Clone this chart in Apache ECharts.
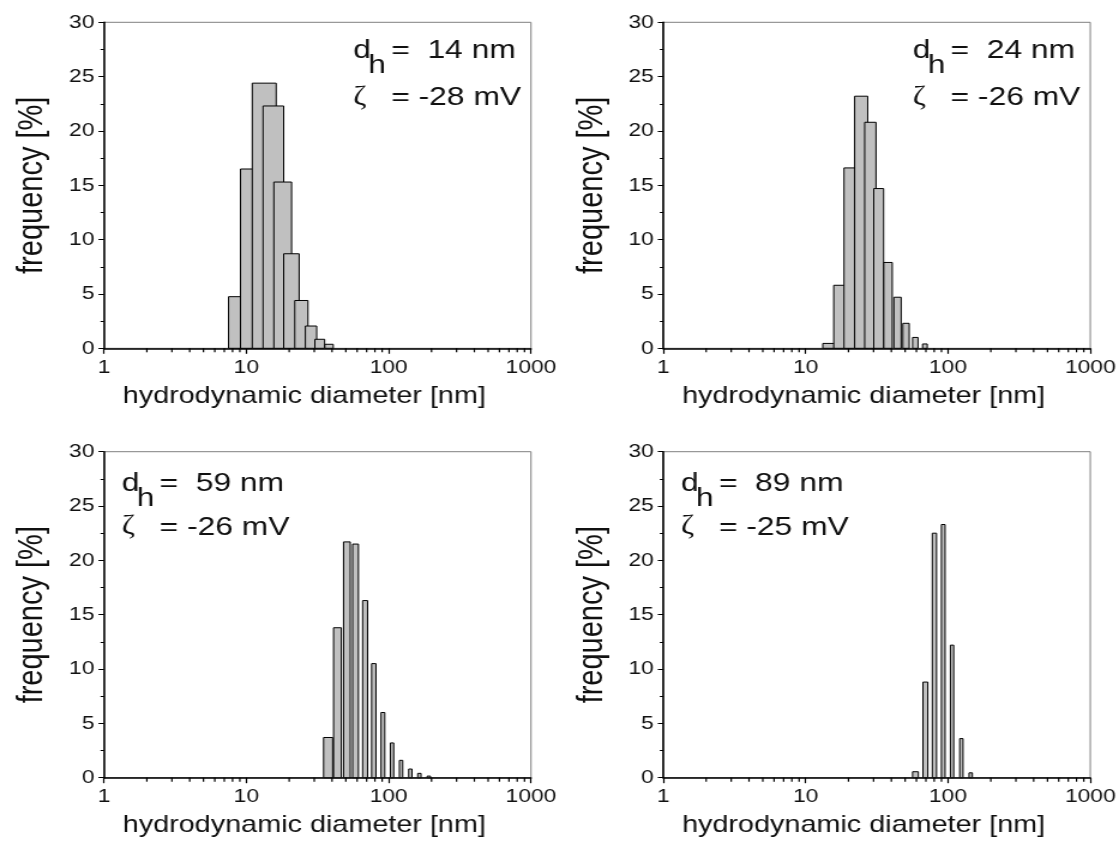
<!DOCTYPE html>
<html>
<head>
<meta charset="utf-8">
<script src="https://cdn.jsdelivr.net/npm/echarts@6/dist/echarts.min.js"></script>
<style>
html, body { margin: 0; padding: 0; background: #fff; overflow: hidden; }
#wrap { width: 1119px; height: 850px; overflow: hidden; }
#chart { width: 933px; height: 850px; transform: scaleX(1.19936); transform-origin: 0 0; }
</style>
</head>
<body>
<div id="wrap"><div id="chart"></div></div>
<script>
// ---- data (bin lower edge diameters in nm, frequencies in %) ----
const P1_DIAMETER_NM = [7.5, 9.1, 11.0, 13.1, 15.6, 18.3, 21.9, 26.0, 30.3, 35.6];
const P1_FREQUENCY   = [4.75, 16.5, 24.4, 22.3, 15.3, 8.7, 4.4, 2.05, 0.83, 0.37];
const P2_DIAMETER_NM = [13.2, 15.75, 18.6, 22.1, 26.0, 30.1, 35.4, 41.7, 48.2, 56.4, 66.3];
const P2_FREQUENCY   = [0.45, 5.8, 16.6, 23.2, 20.8, 14.7, 7.9, 4.7, 2.3, 1.0, 0.4];
const P3_DIAMETER_NM = [34.9, 41.0, 48.2, 55.8, 65.6, 75.9, 88.4, 102.8, 119, 138.2, 160, 186.4];
const P3_FREQUENCY   = [3.7, 13.8, 21.7, 21.5, 16.3, 10.5, 6.0, 3.2, 1.6, 0.8, 0.4, 0.15];
const P4_DIAMETER_NM = [56.4, 66.7, 77.6, 89.9, 104, 120.9, 140.6];
const P4_FREQUENCY   = [0.55, 8.8, 22.5, 23.3, 12.2, 3.6, 0.45];
const BIN_WIDTH_NM   = [5.2, 5.2, 5.5, 5.5];
const DH_VALUES      = ['14', '24', '59', '89'];
const ZETA_VALUES    = ['-28', '-26', '-26', '-25'];
const X_TITLE = 'hydrodynamic diameter [nm]';
const Y_TITLE = 'frequency [%]';
const X_MINOR_TICKS = [2, 3, 4, 5, 6, 7, 8, 9, 20, 30, 40, 50, 60, 70, 80, 90, 200, 300, 400, 500, 600, 700, 800, 900];

const DIAMETERS = [P1_DIAMETER_NM, P2_DIAMETER_NM, P3_DIAMETER_NM, P4_DIAMETER_NM];
const FREQS = [P1_FREQUENCY, P2_FREQUENCY, P3_FREQUENCY, P4_FREQUENCY];

// ---- layout ----
const SX = 1119 / 933;
const cx = v => v / SX;
const GRID_W = cx(427), GRID_H = 326;
const GRIDS = [
  { left: cx(104),   top: 22.3 },
  { left: cx(663.3), top: 22.3 },
  { left: cx(104),   top: 451.7 },
  { left: cx(663.3), top: 451.7 }
];
const FONT = 'Liberation Sans, Arial, sans-serif';
const MIN_BAR_PX = cx(3.3);

const chart = echarts.init(document.getElementById('chart'), null, { renderer: 'canvas' });

function barRenderer(w) {
  return function (params, api) {
    const d = api.value(0), f = api.value(1);
    const p0 = api.coord([d, 0]);
    const p1 = api.coord([d + w, f]);
    const width = Math.max(p1[0] - p0[0], MIN_BAR_PX);
    return {
      type: 'rect',
      shape: { x: p0[0], y: p1[1], width: width, height: p0[1] - p1[1] },
      style: { fill: '#c0c0c0', stroke: '#000', lineWidth: 1 }
    };
  };
}
function minorTickRenderer(params, api) {
  const p = api.coord([api.value(0), 0]);
  return {
    type: 'line',
    shape: { x1: p[0], y1: p[1], x2: p[0], y2: p[1] + 4 },
    style: { stroke: '#000', lineWidth: 1.2 }
  };
}

const grid = [], xAxis = [], yAxis = [], series = [], graphic = [];
GRIDS.forEach((g, i) => {
  grid.push({ left: g.left, top: g.top, width: GRID_W, height: GRID_H, show: true,
    borderColor: '#808080', borderWidth: 1, backgroundColor: 'transparent',
    containLabel: false, outerBoundsMode: 'none' });
  xAxis.push({
    type: 'log', logBase: 10, gridIndex: i, min: 1, max: 1000,
    axisLine: { show: true, lineStyle: { color: '#000', width: 1.5 } },
    axisTick: { show: true, inside: false, length: 5.5, lineStyle: { color: '#000', width: 1.2 } },
    axisLabel: { fontSize: 19, fontFamily: FONT, color: '#111', margin: 10, formatter: v => String(v) },
    splitLine: { show: false },
    name: X_TITLE, nameLocation: 'middle', nameGap: 36,
    nameTextStyle: { fontSize: 24, fontFamily: FONT, color: '#111', padding: [0, 22, 0, 0] }
  });
  yAxis.push({
    type: 'value', gridIndex: i, min: 0, max: 30, interval: 5,
    axisLine: { show: true, lineStyle: { color: '#000', width: 1.5 } },
    axisTick: { show: true, inside: false, length: cx(5.5), lineStyle: { color: '#000', width: 1 } },
    minorTick: { show: true, splitNumber: 2, length: cx(3.5), lineStyle: { color: '#000', width: 1 } },
    axisLabel: { fontSize: 19, fontFamily: FONT, color: '#111', margin: 8 },
    splitLine: { show: false }, minorSplitLine: { show: false },
    name: Y_TITLE, nameLocation: 'middle', nameGap: 45,
    nameTextStyle: { fontSize: 29, fontFamily: FONT, color: '#111' }
  });
  series.push({
    type: 'custom', xAxisIndex: i, yAxisIndex: i, clip: false,
    data: DIAMETERS[i].map((d, k) => [d, FREQS[i][k]]),
    renderItem: barRenderer(BIN_WIDTH_NM[i]), z: 3
  });
  series.push({
    type: 'custom', xAxisIndex: i, yAxisIndex: i, clip: false,
    data: X_MINOR_TICKS.map(v => [v, 0]),
    renderItem: minorTickRenderer, z: 4
  });

  // annotations
  const F = 26.5;
  const x0 = g.left + (i < 2 ? cx(249.3) : cx(17.7));
  const b1 = g.top + (i < 2 ? 38 : 41.6);
  const b2 = g.top + 85;
  const mid = b => b - 0.3465 * F;
  const eqX = x0 + cx(38.5) - 0.5;
  const common = { fill: '#111', textVerticalAlign: 'middle', textAlign: 'left' };
  graphic.push({ type: 'text', z: 10, style: Object.assign({ text: 'd', x: x0, y: mid(b1), font: F + 'px ' + FONT }, common) });
  graphic.push({ type: 'text', z: 10, style: Object.assign({ text: 'h', x: x0 + cx(15), y: mid(b1 + 15), font: F + 'px ' + FONT }, common) });
  graphic.push({ type: 'text', z: 10, style: Object.assign({ text: '=  ' + DH_VALUES[i] + ' nm', x: eqX, y: mid(b1), font: F + 'px ' + FONT }, common) });
  graphic.push({ type: 'text', z: 10, style: Object.assign({ text: 'ζ', x: x0, y: mid(b2), font: F + 'px Liberation Serif, serif' }, common) });
  graphic.push({ type: 'text', z: 10, style: Object.assign({ text: '= ' + ZETA_VALUES[i] + ' mV', x: eqX, y: mid(b2), font: F + 'px ' + FONT }, common) });
});

chart.setOption({
  animation: false,
  backgroundColor: '#fff',
  grid: grid, xAxis: xAxis, yAxis: yAxis, series: series, graphic: graphic
});
</script>
</body>
</html>
